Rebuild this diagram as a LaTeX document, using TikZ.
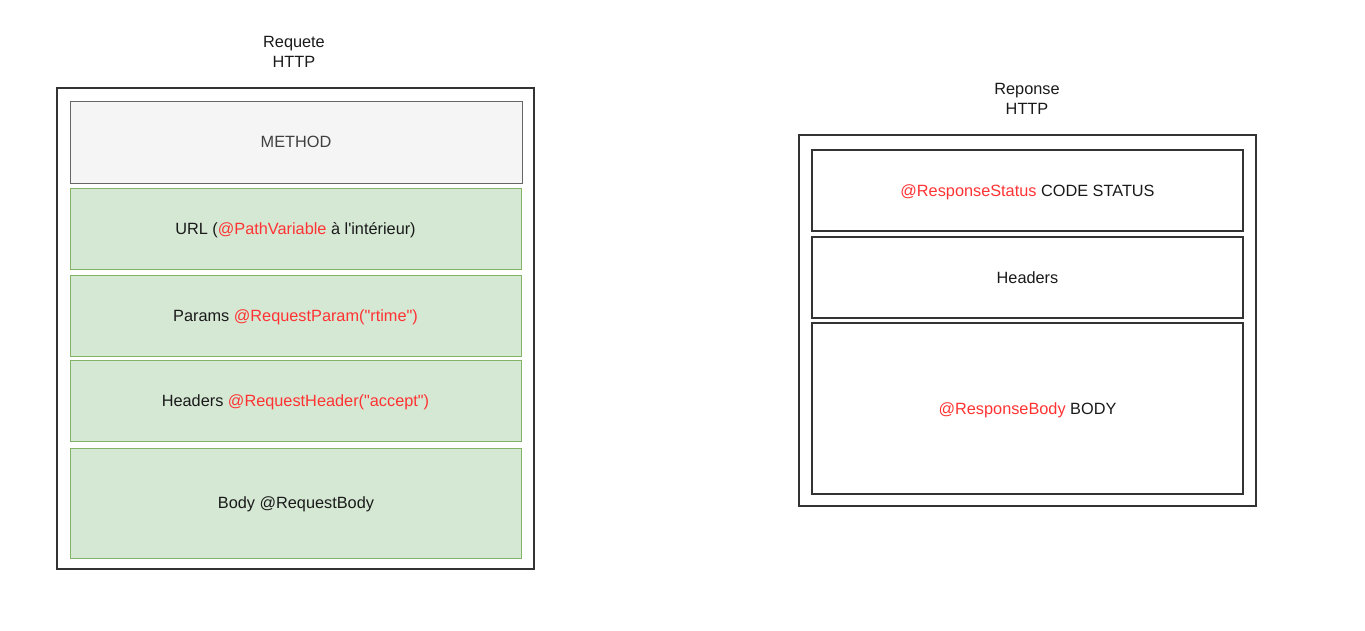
\documentclass[tikz,border=0pt]{standalone}
\usepackage{fontspec}
\setmainfont{Liberation Sans}
\usepackage{xcolor}
\usepackage{tikz}

\definecolor{greyfill}{HTML}{F5F5F5}
\definecolor{greyline}{HTML}{666666}
\definecolor{greenfill}{HTML}{D5E8D4}
\definecolor{greenline}{HTML}{82B366}
\definecolor{annotred}{HTML}{FF3333}
\definecolor{textdark}{HTML}{1A1A1A}

\newcommand{\annot}[1]{\textcolor{annotred}{#1}}
\newcommand{\dq}{\textquotedbl}

\begin{document}
\begin{tikzpicture}[x=1pt,y=-1pt,
    every node/.style={font=\fontsize{16.3}{20}\selectfont,text=textdark},
    outerbox/.style={draw=black!80,line width=1.3pt,fill=white,inner sep=0pt},
    partbox/.style={inner sep=0pt,text height=11.8pt,text depth=0pt},
    methodbox/.style={partbox,draw=greyline,fill=greyfill,line width=1pt,
                      minimum width=452pt,text=black!75},
    fieldbox/.style={partbox,draw=greenline,fill=greenfill,line width=1pt,
                     minimum width=451pt},
    replybox/.style={partbox,draw=black!80,line width=1.3pt,fill=white,
                     minimum width=431pt},
    titletext/.style={align=center}]

  \useasboundingbox (0,0) rectangle (1365,630);

  % request title
  \node [titletext] (reqtitle) at (294, 52) {Requete\\HTTP};

  % request frame
  \node [outerbox,minimum width=477pt,minimum height=481pt] (reqframe) at (295.5, 328.5) {};

  % request parts
  \node [methodbox,minimum height=82pt]  (method)  at (296,   142)   {METHOD};
  \node [fieldbox,minimum height=81pt]   (url)     at (295.5, 228.5) {URL (\annot{@PathVariable} à l\textquotesingle intérieur)};
  \node [fieldbox,minimum height=81pt]   (params)  at (295.5, 315.5) {Params \annot{@RequestParam(\dq rtime\dq)}};
  \node [fieldbox,minimum height=81pt]   (reqhead) at (295.5, 400.5) {Headers \annot{@RequestHeader(\dq accept\dq)}};
  \node [fieldbox,minimum height=110pt]  (reqbody) at (296,   503)   {Body @RequestBody};

  % response title
  \node [titletext] (restitle) at (1027, 99) {Reponse\\HTTP};

  % response frame
  \node [outerbox,minimum width=457pt,minimum height=371pt] (resframe) at (1027.5, 320.5) {};

  % response parts
  \node [replybox,minimum height=81pt]   (status)  at (1027.5, 190.5) {\annot{@ResponseStatus} CODE STATUS};
  \node [replybox,minimum height=81pt]   (reshead) at (1027.5, 277.5) {Headers};
  \node [replybox,minimum height=171pt]  (resbody) at (1027.5, 408.5) {\annot{@ResponseBody} BODY};

\end{tikzpicture}
\end{document}
